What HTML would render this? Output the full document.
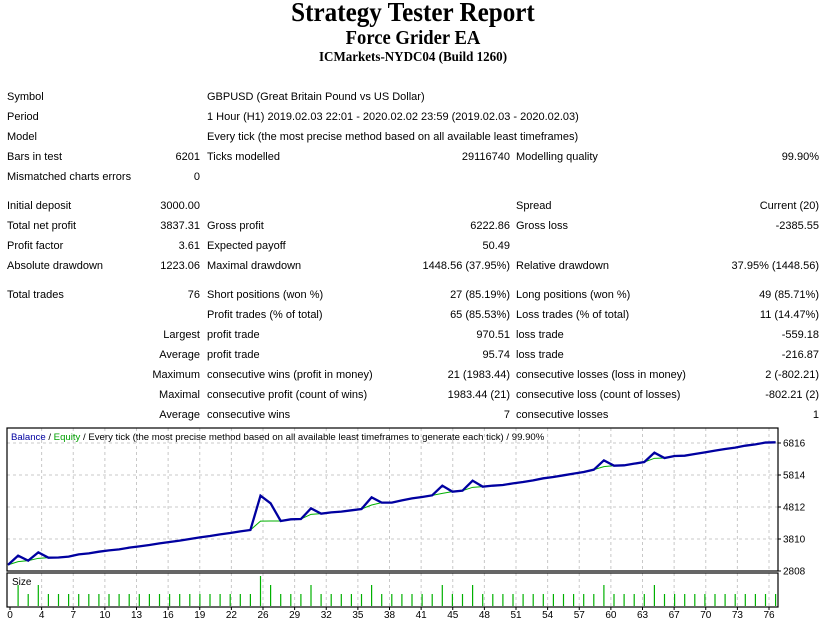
<!DOCTYPE html>
<html><head><meta charset="utf-8">
<style>
body{margin:0;width:826px;height:625px;background:#fff;position:relative;overflow:hidden;font-family:"Liberation Sans",sans-serif;font-size:11px;color:#000}
.t{position:absolute;white-space:nowrap;line-height:13px}
.r{text-align:right}
.h{position:absolute;left:0;width:826px;text-align:center;font-family:"Liberation Serif",serif;font-weight:bold;white-space:nowrap}
</style></head><body>
<div class="h" style="top:-3px;font-size:27px;line-height:30px;transform:scaleX(0.93)">Strategy Tester Report</div>
<div class="h" style="top:26px;font-size:20px;line-height:24px;transform:scaleX(0.93)">Force Grider EA</div>
<div class="h" style="top:50px;font-size:14px;line-height:16px;transform:scaleX(0.93)">ICMarkets-NYDC04 (Build 1260)</div>
<div id="tbl"></div>
<svg id="chart" width="826" height="625" style="position:absolute;left:0;top:0"></svg>
<script>
const rows=[
[96,"Symbol","","GBPUSD (Great Britain Pound vs US Dollar)","","",""],
[116,"Period","","1 Hour (H1) 2019.02.03 22:01 - 2020.02.02 23:59 (2019.02.03 - 2020.02.03)","","",""],
[136,"Model","","Every tick (the most precise method based on all available least timeframes)","","",""],
[156,"Bars in test","6201","Ticks modelled","29116740","Modelling quality","99.90%"],
[176,"Mismatched charts errors","0","","","",""],
[205,"Initial deposit","3000.00","","","Spread","Current (20)"],
[225,"Total net profit","3837.31","Gross profit","6222.86","Gross loss","-2385.55"],
[245,"Profit factor","3.61","Expected payoff","50.49","",""],
[265,"Absolute drawdown","1223.06","Maximal drawdown","1448.56 (37.95%)","Relative drawdown","37.95% (1448.56)"],
[294,"Total trades","76","Short positions (won %)","27 (85.19%)","Long positions (won %)","49 (85.71%)"],
[314,"","","Profit trades (% of total)","65 (85.53%)","Loss trades (% of total)","11 (14.47%)"],
[334,"","Largest","profit trade","970.51","loss trade","-559.18"],
[354,"","Average","profit trade","95.74","loss trade","-216.87"],
[374,"","Maximum","consecutive wins (profit in money)","21 (1983.44)","consecutive losses (loss in money)","2 (-802.21)"],
[394,"","Maximal","consecutive profit (count of wins)","1983.44 (21)","consecutive loss (count of losses)","-802.21 (2)"],
[414,"","Average","consecutive wins","7","consecutive losses","1"]];
const tbl=document.getElementById('tbl');
function cell(txt,x,y,right,w){
  if(!txt)return;
  const d=document.createElement('div');
  
  
  d.className='t'+(right?' r':'');
  d.style.top=(y-5)+'px';
  if(right){d.style.left=(x-w)+'px';d.style.width=w+'px';}else d.style.left=x+'px';
  d.textContent=txt;tbl.appendChild(d);
}
rows.forEach(r=>{
  cell(r[1],7,r[0],false);
  cell(r[2],200,r[0],true,190);
  cell(r[3],207,r[0],false);
  cell(r[4],510,r[0],true,200);
  cell(r[5],516,r[0],false);
  cell(r[6],819,r[0],true,200);
});

const balance=[3000,3288,3132,3392,3225,3230,3257,3330,3361,3413,3455,3486,3539,3580,3622,3674,3716,3758,3810,3862,3904,3956,3998,4050,4092,5167,4927,4374,4426,4436,4770,4603,4645,4666,4708,4749,5115,4948,4948,5021,5083,5125,5177,5480,5292,5323,5637,5449,5480,5501,5553,5595,5647,5710,5751,5804,5856,5908,5981,6273,6106,6117,6169,6221,6513,6346,6409,6419,6471,6523,6576,6628,6670,6732,6774,6830,6837];
const equity=[3000,3100,3132,3205,3225,3230,3257,3330,3361,3413,3455,3486,3539,3580,3622,3674,3716,3758,3810,3862,3904,3956,3998,4050,4092,4370,4374,4374,4426,4436,4582,4603,4645,4666,4708,4749,4875,4948,4948,5021,5083,5125,5177,5240,5292,5323,5428,5449,5480,5501,5553,5595,5647,5710,5751,5804,5856,5908,5981,6075,6106,6117,6169,6221,6336,6346,6409,6419,6471,6523,6576,6628,6670,6732,6774,6830,6837];
const sizes=[0.07,0.04,0.07,0.04,0.04,0.04,0.04,0.04,0.04,0.04,0.04,0.04,0.04,0.04,0.04,0.04,0.04,0.04,0.04,0.04,0.04,0.04,0.04,0.04,0.1,0.07,0.04,0.04,0.04,0.07,0.04,0.04,0.04,0.04,0.04,0.07,0.04,0.04,0.04,0.04,0.04,0.04,0.07,0.04,0.04,0.07,0.04,0.04,0.04,0.04,0.04,0.04,0.04,0.04,0.04,0.04,0.04,0.04,0.07,0.04,0.04,0.04,0.04,0.07,0.04,0.04,0.04,0.04,0.04,0.04,0.04,0.04,0.04,0.04,0.04,0.04];
const yTicks=[2808,3810,4812,5814,6816];
const xTickLabels=["0","4","7","10","13","16","19","22","26","29","32","35","38","41","45","48","51","54","57","60","63","67","70","73","76"];

const svg=document.getElementById('chart');
const NS='http://www.w3.org/2000/svg';
function el(tag,attrs,name,parent){
  const e=document.createElementNS(NS,tag);
  for(const k in attrs)e.setAttribute(k,attrs[k]);
  
  
  (parent||svg).appendChild(e);return e;
}
const L=7,R=778,T=428,B=571,SB=607,ST=573;
const yMin=2808,yMax=6816,yTop=443;
function ys(v){return B-(v-yMin)/(yMax-yMin)*(B-yTop);}
function xs(i){return 8+i*10.1;}
function xl(k){return 10+k*(769-10)/(xTickLabels.length-1);}
yTicks.forEach(v=>{
  const y=ys(v);
  if(v>yMin) el('line',{x1:L,x2:R,y1:y,y2:y,stroke:'#c8c8c8','stroke-dasharray':'3,3','stroke-width':1},'h-gridline');
  el('line',{x1:R,x2:R+3,y1:y,y2:y,stroke:'#000'},'y-tick');
  const t=el('text',{x:R+5,y:y+3.5,'font-size':10,'font-family':'Liberation Sans, sans-serif'},'y-tick-label');
  t.textContent=v;
});
xTickLabels.forEach((lab,k)=>{
  const x=xl(k);
  if(k>0){
    el('line',{x1:x,x2:x,y1:T,y2:B,stroke:'#c8c8c8','stroke-dasharray':'3,3'},'v-gridline');
    el('line',{x1:x,x2:x,y1:ST,y2:SB,stroke:'#c8c8c8','stroke-dasharray':'3,3'},'v-gridline-size');
  }
  el('line',{x1:x,x2:x,y1:SB,y2:SB+3,stroke:'#000'},'x-tick');
  const t=el('text',{x:x,y:618,'font-size':10,'text-anchor':'middle','font-family':'Liberation Sans, sans-serif'},'x-tick-label');
  t.textContent=lab;
});
const sMax=0.1;
sizes.forEach((s,j)=>{
  const x=xs(j+1);
  el('line',{x1:x,x2:x,y1:SB-1,y2:SB-1-s/sMax*30,stroke:'#00b000','stroke-width':1.2},'size-bar');
});
el('polyline',{points:equity.map((v,i)=>xs(i)+','+ys(v)).join(' '),fill:'none',stroke:'#00b000','stroke-width':1},'equity-line');
el('polyline',{points:balance.map((v,i)=>xs(i)+','+ys(v)).join(' '),fill:'none',stroke:'#0000a0','stroke-width':2.3},'balance-line');
el('rect',{x:L,y:T,width:R-L,height:B-T,fill:'none',stroke:'#000','stroke-width':1.2},'main-frame');
el('rect',{x:L,y:ST,width:R-L,height:SB-ST,fill:'none',stroke:'#000','stroke-width':1.2},'size-frame');
const st=el('text',{x:12,y:585,'font-size':10,'font-family':'Liberation Sans, sans-serif'},'size-label');
st.textContent='Size';
const tt=el('text',{x:11,y:440,'font-size':9.6,'font-family':'Liberation Sans, sans-serif'},'chart-title');
tt.innerHTML='<tspan fill="#0000a0">Balance</tspan> / <tspan fill="#00a000">Equity</tspan> / Every tick (the most precise method based on all available least timeframes to generate each tick) / 99.90%';
</script>
</body></html>
